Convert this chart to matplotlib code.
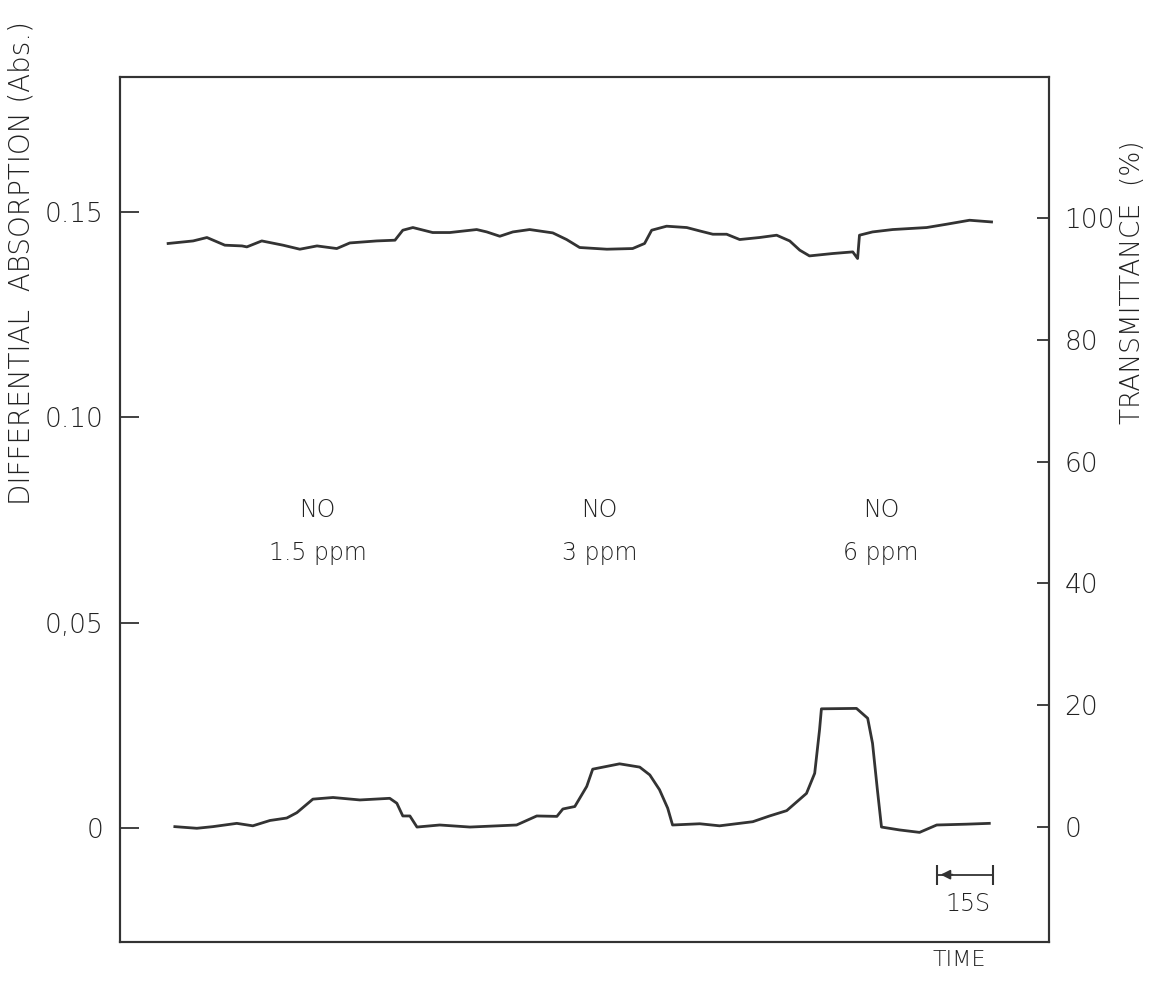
"""Differential absorption of NO at 1.5, 3 and 6 ppm, with transmittance trace."""

import numpy as np
import matplotlib
matplotlib.use("Agg")
import matplotlib.pyplot as plt  # noqa: E402

plt.rcParams["font.family"] = ["DejaVu Sans"]
plt.rcParams["font.weight"] = "light"
plt.rcParams["axes.labelweight"] = "light"

# ------ upper trace: transmittance (%) vs time (s) ------
T_TIME = [12.9, 19.6, 23.3, 28.1, 32.7, 34.0, 38.0, 43.7, 48.2, 52.8, 58.1,
          61.6, 68.8, 73.7, 75.8, 78.5, 83.8, 88.4, 95.6, 98.3, 101.8, 105.3,
          109.8, 116.0, 119.7, 123.2, 130.5, 137.4, 140.6, 142.5, 146.5,
          151.9, 155.4, 158.9, 162.6, 166.1, 171.4, 176.0, 179.5, 182.2,
          184.8, 191.0, 196.4, 197.7, 198.2, 201.7, 207.1, 216.2, 221.5,
          227.7, 233.6]
T_PCT = [95.85, 96.27, 96.83, 95.57, 95.45, 95.29, 96.27, 95.57, 94.91,
         95.45, 95.02, 95.94, 96.27, 96.39, 98.03, 98.47, 97.65, 97.65, 98.14,
         97.75, 97.04, 97.75, 98.14, 97.59, 96.50, 95.19, 94.91, 95.02, 95.85,
         98.03, 98.69, 98.47, 97.91, 97.37, 97.37, 96.50, 96.83, 97.21, 96.27,
         94.75, 93.81, 94.20, 94.47, 93.38, 97.21, 97.75, 98.14, 98.47, 99.01,
         99.67, 99.39]

# ------ lower trace: differential absorption (Abs.) vs time (s) ------
A_TIME = [14.7, 20.6, 24.9, 31.3, 35.6, 40.2, 44.7, 47.4, 51.7, 57.1, 64.3,
          72.3, 74.2, 75.8, 77.7, 79.6, 85.7, 93.8, 106.3, 111.7, 117.1,
          118.7, 121.9, 125.1, 126.7, 133.9, 139.3, 142.0, 144.6, 146.8,
          148.1, 155.4, 160.7, 169.6, 174.1, 178.7, 184.0, 186.2, 187.5,
          188.0, 197.4, 200.4, 201.7, 203.0, 204.1, 208.9, 214.3, 218.9,
          226.9, 233.0]
A_ABS = [0.0003, -0.0001, 0.0003, 0.0011, 0.0005, 0.0018, 0.0024, 0.0037,
         0.0070, 0.0074, 0.0068, 0.0072, 0.0060, 0.0029, 0.0029, 0.0002,
         0.0007, 0.0002, 0.0007, 0.0029, 0.0028, 0.0046, 0.0052, 0.0101,
         0.0143, 0.0156, 0.0148, 0.0129, 0.0093, 0.0048, 0.0007, 0.0010,
         0.0005, 0.0015, 0.0029, 0.0042, 0.0084, 0.0133, 0.0239, 0.0290,
         0.0291, 0.0267, 0.0206, 0.0093, 0.0002, -0.0005, -0.0011, 0.0007,
         0.0009, 0.0011]

# ------ sample labels ------
GAS_X = [53.0, 128.5, 204.0]
GAS_LABELS = ["NO\n1.5 ppm", "NO\n3 ppm", "NO\n6 ppm"]

# ------ axes ------
ABS_TICKS = [0.0, 0.05, 0.10, 0.15]
ABS_TICKLABELS = ["0", "0,05", "0.10", "0.15"]
PCT_TICKS = [0, 20, 40, 60, 80, 100]

SCALE_START = 218.9   # s
SCALE_LEN = 15.0      # s

INK = "#333333"
TXT = "#222222"
W, H = 1149, 986

fig = plt.figure(figsize=(W / 100, H / 100), dpi=100)
ax = fig.add_axes([120 / W, 1 - 942 / H, (1049 - 120) / W, (942 - 77) / H])
axr = ax.twinx()

ax.plot(A_TIME, A_ABS, color=INK, lw=2.0, solid_joinstyle="round")
axr.plot(T_TIME, T_PCT, color=INK, lw=2.0, solid_joinstyle="round")

ax.set_xlim(0, 249)
ax.set_ylim(-0.0278, 0.1829)
axr.set_ylim(-18.9, 123.2)

ax.set_xticks([])
ax.set_yticks(ABS_TICKS)
ax.set_yticklabels(ABS_TICKLABELS)
axr.set_yticks(PCT_TICKS)

ax.tick_params(axis="y", direction="in", length=14, width=1.3, pad=12,
               labelsize=19, colors=INK, labelcolor=TXT)
axr.tick_params(axis="y", direction="in", length=9, width=1.3, pad=11,
                labelsize=19, colors=INK, labelcolor=TXT)
for a in (ax, axr):
    for s in a.spines.values():
        s.set_color(INK)
        s.set_linewidth(1.5)

ax.set_ylabel("DIFFERENTIAL  ABSORPTION (Abs.)", fontsize=20, color=TXT,
              fontweight="light")
ax.yaxis.set_label_coords(-0.091, 0.785)
axr.set_ylabel("TRANSMITTANCE  (%)", fontsize=19, color=TXT,
               fontweight="light")
axr.yaxis.set_label_coords(1.076, 0.763)

for x, lab in zip(GAS_X, GAS_LABELS):
    ax.text(x, 0.0722, lab, ha="center", va="center", fontsize=17,
            color=TXT, linespacing=2.0)

# 15 s scale bar
ybar = -0.0114
ax.plot([SCALE_START, SCALE_START + SCALE_LEN], [ybar, ybar], color=INK,
        lw=1.3, marker="|", ms=14, mew=1.5)
ax.annotate("", xy=(SCALE_START + 0.3, ybar),
            xytext=(SCALE_START + 5, ybar),
            arrowprops=dict(arrowstyle="-|>", color=INK, lw=1.3,
                            mutation_scale=14))
ax.text(SCALE_START + SCALE_LEN / 2 + 0.8, ybar - 0.0072, "15S",
        ha="center", va="center", fontsize=17, color=TXT)

ax.text(0.903, -0.009, "TIME", transform=ax.transAxes, ha="center", va="top",
        fontsize=16, color=TXT)

fig.savefig("out.png", dpi=100)
